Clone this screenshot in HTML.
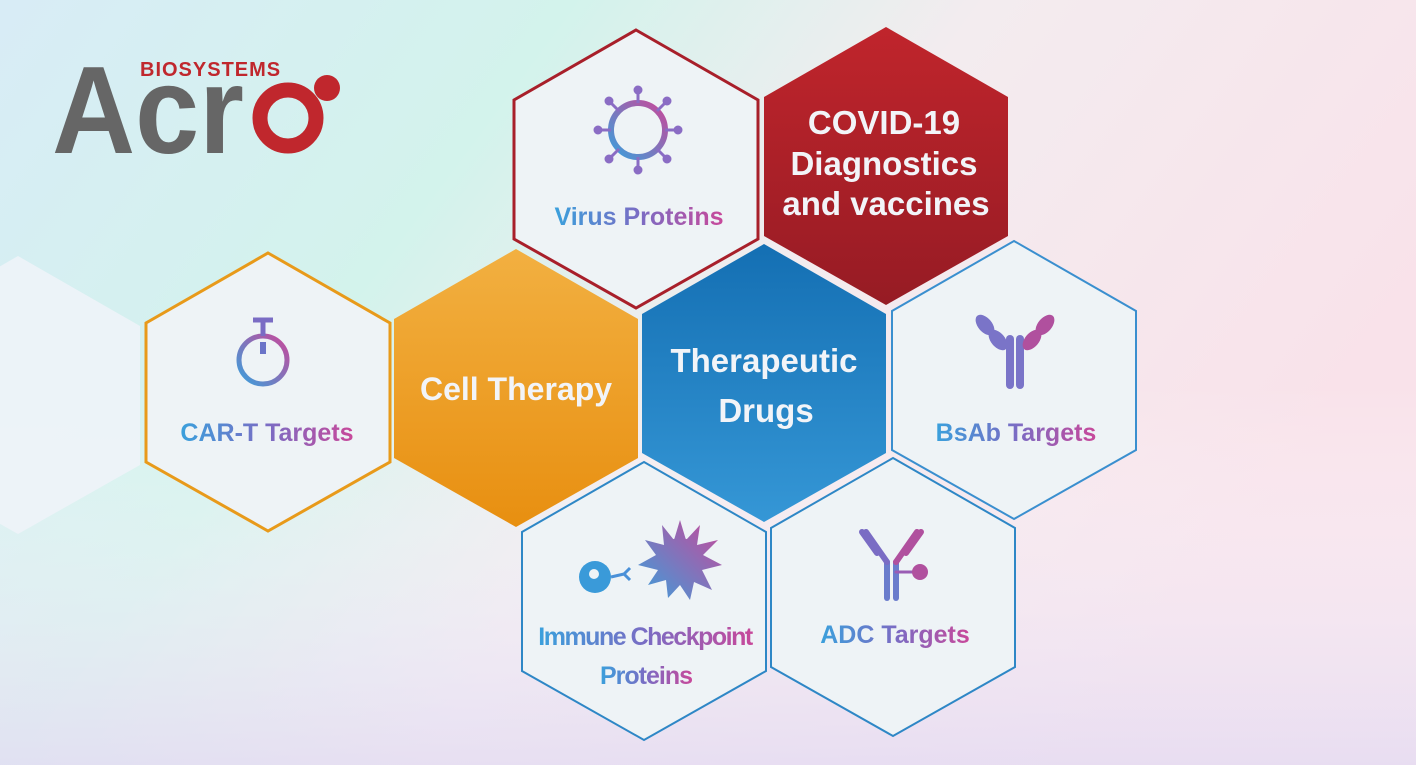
<!DOCTYPE html>
<html><head><meta charset="utf-8"><style>
html,body{margin:0;padding:0;width:1416px;height:765px;overflow:hidden}
svg{display:block}
text{font-family:"Liberation Sans",sans-serif;font-weight:bold}
</style></head><body>
<svg width="1416" height="765" viewBox="0 0 1416 765" xmlns="http://www.w3.org/2000/svg">
<defs>
<linearGradient id="bg" x1="0" y1="0" x2="1" y2="0.4">
<stop offset="0" stop-color="#d8ecf6"/><stop offset="0.35" stop-color="#d3f3ec"/>
<stop offset="0.6" stop-color="#f3ecef"/><stop offset="1" stop-color="#f9e2ea"/></linearGradient>
<linearGradient id="bg2" x1="0" y1="0" x2="0" y2="1">
<stop offset="0.5" stop-color="#ffffff" stop-opacity="0"/><stop offset="1" stop-color="#e4dcf3" stop-opacity="0.8"/></linearGradient>
<linearGradient id="tg" x1="0" y1="0" x2="1" y2="0">
<stop offset="0" stop-color="#3aa0dc"/><stop offset="0.5" stop-color="#7a6cc4"/><stop offset="1" stop-color="#c8489a"/></linearGradient>
<linearGradient id="ig" x1="0" y1="1" x2="1" y2="0">
<stop offset="0" stop-color="#3aa0dc"/><stop offset="1" stop-color="#c8489a"/></linearGradient>
<linearGradient id="red" x1="0" y1="0" x2="0" y2="1"><stop offset="0" stop-color="#c0252c"/><stop offset="1" stop-color="#961b24"/></linearGradient>
<linearGradient id="org" x1="0" y1="0" x2="0" y2="1"><stop offset="0" stop-color="#f2b041"/><stop offset="1" stop-color="#e88f10"/></linearGradient>
<linearGradient id="blu" x1="0" y1="0" x2="0" y2="1"><stop offset="0" stop-color="#146fb3"/><stop offset="1" stop-color="#3597d6"/></linearGradient>
</defs>
<rect width="1416" height="765" fill="url(#bg)"/>
<rect width="1416" height="765" fill="url(#bg2)"/>

<!-- logo -->
<text x="140" y="76" font-size="20" fill="#c0272d" font-weight="normal" letter-spacing="1">BIOSYSTEMS</text>
<text x="52" y="153" font-size="124" fill="#666" font-weight="normal" textLength="192" lengthAdjust="spacingAndGlyphs">Acr</text>
<circle cx="288" cy="118" r="28" fill="none" stroke="#c0272d" stroke-width="15"/>
<circle cx="327" cy="88" r="13" fill="#c0272d"/>

<!-- left partial -->
<polygon points="18,256 140,326 140,465 18,534 -104,465 -104,326" fill="#eef3f8" opacity="0.9"/>

<!-- hexes -->
<polygon points="636,30 758,100 758,239 636,308 514,239 514,100" fill="#eef3f6" stroke="#a81f2a" stroke-width="3"/>
<polygon points="886,27 1008,97 1008,236 886,305 764,236 764,97" fill="url(#red)"/>
<polygon points="268,253 390,323 390,462 268,531 146,462 146,323" fill="#eef3f6" stroke="#e89a1a" stroke-width="3"/>
<polygon points="516,249 638,319 638,458 516,527 394,458 394,319" fill="url(#org)"/>
<polygon points="764,244 886,314 886,453 764,522 642,453 642,314" fill="url(#blu)"/>
<polygon points="1014,241 1136,311 1136,450 1014,519 892,450 892,311" fill="#eef3f6" stroke="#3a8fcf" stroke-width="2"/>
<polygon points="644,462 766,532 766,671 644,740 522,671 522,532" fill="#eef3f6" stroke="#2e87c6" stroke-width="2"/>
<polygon points="893,458 1015,528 1015,667 893,736 771,667 771,528" fill="#eef3f6" stroke="#2e87c6" stroke-width="2"/>

<!-- centre texts -->
<g fill="#f2f4f8" text-anchor="middle" font-size="33">
<text x="884" y="134">COVID-19</text>
<text x="884" y="175">Diagnostics</text>
<text x="886" y="215">and vaccines</text>
<text x="516" y="400" font-size="32">Cell Therapy</text>
<text x="764" y="372" font-size="33">Therapeutic</text>
<text x="766" y="422" font-size="33">Drugs</text>
</g>
<g fill="url(#tg)" text-anchor="middle" font-size="25">
<text x="639" y="225">Virus Proteins</text>
<text x="267" y="441">CAR-T Targets</text>
<text x="1016" y="441">BsAb Targets</text>
<text x="645" y="645" letter-spacing="-1.5">Immune Checkpoint</text>
<text x="646" y="684" letter-spacing="-1">Proteins</text>
<text x="895" y="643">ADC Targets</text>
</g>

<!-- virus icon -->
<circle cx="638" cy="130" r="27" fill="none" stroke="url(#ig)" stroke-width="6"/>
<g stroke="#8a6cc4" fill="#8a6cc4" stroke-width="3">
<line x1="638" y1="103" x2="638" y2="92"/><line x1="638" y1="157" x2="638" y2="168"/>
<line x1="611" y1="130" x2="600" y2="130"/><line x1="665" y1="130" x2="676" y2="130"/>
<line x1="619" y1="111" x2="611" y2="103"/><line x1="657" y1="111" x2="665" y2="103"/>
<line x1="619" y1="149" x2="611" y2="157"/><line x1="657" y1="149" x2="665" y2="157"/>
<circle cx="638" cy="90" r="3"/><circle cx="638" cy="170" r="3"/><circle cx="598" cy="130" r="3"/><circle cx="678" cy="130" r="3"/>
<circle cx="609" cy="101" r="3"/><circle cx="667" cy="101" r="3"/><circle cx="609" cy="159" r="3"/><circle cx="667" cy="159" r="3"/>
</g>
<!-- CAR-T icon -->
<circle cx="263" cy="360" r="24" fill="none" stroke="url(#ig)" stroke-width="5"/>
<g stroke="#7a6cc4" stroke-width="5"><line x1="263" y1="336" x2="263" y2="320"/><line x1="253" y1="320" x2="273" y2="320"/></g>
<rect x="260" y="342" width="6" height="12" fill="#6a74c8"/>
<!-- BsAb icon -->
<g fill="#7a74c8">
<rect x="1006" y="335" width="8" height="54" rx="4"/><rect x="1016" y="335" width="8" height="54" rx="4"/>
<ellipse cx="985" cy="325" rx="7" ry="12" transform="rotate(-40 985 325)"/>
<ellipse cx="998" cy="340" rx="7" ry="12" transform="rotate(-40 998 340)"/>
<ellipse cx="1045" cy="325" rx="7" ry="12" transform="rotate(40 1045 325)" fill="#b0509e"/>
<ellipse cx="1032" cy="340" rx="7" ry="12" transform="rotate(40 1032 340)" fill="#b0509e"/>
</g>
<!-- ADC icon -->
<g stroke-width="6" stroke-linecap="round" fill="none">
<line x1="887" y1="562" x2="887" y2="598" stroke="#6a7ccc"/><line x1="896" y1="562" x2="896" y2="598" stroke="#6a7ccc"/>
<line x1="887" y1="562" x2="866" y2="532" stroke="#7a6cc4"/><line x1="877" y1="553" x2="862" y2="532" stroke="#7a6cc4"/>
<line x1="896" y1="562" x2="917" y2="532" stroke="#b0509e"/><line x1="906" y1="553" x2="921" y2="532" stroke="#b0509e"/>
<line x1="896" y1="572" x2="915" y2="572" stroke-width="3" stroke="#9a5cb4"/>
</g>
<circle cx="920" cy="572" r="8" fill="#b0509e"/>
<!-- immune icon -->
<circle cx="595" cy="577" r="16" fill="#3a9ad9"/>
<circle cx="594" cy="574" r="5" fill="#eef3f6"/>
<g stroke="#4a90d8" stroke-width="3" fill="none"><line x1="611" y1="577" x2="624" y2="574"/><line x1="624" y1="574" x2="630" y2="568"/><line x1="624" y1="574" x2="630" y2="580"/></g>
<g fill="url(#ig)">
<circle cx="680" cy="560" r="22"/>
<polygon points="680,520 686,540 700,525 697,545 718,540 703,555 722,565 702,570 712,590 694,582 690,600 680,585 668,598 666,580 648,585 658,570 638,565 656,555 645,540 664,545 662,525 674,540"/>
</g>
</svg>
</body></html>
